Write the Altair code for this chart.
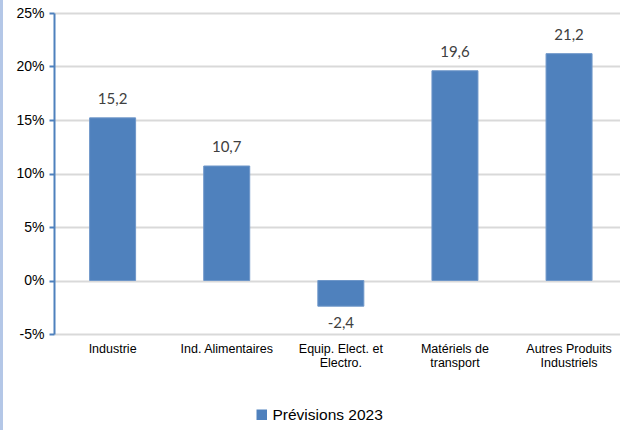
import altair as alt
import pandas as pd

categories = ["Industrie", "Ind. Alimentaires", "Equip. Elect. et Electro.",
              "Matériels de transport", "Autres Produits Industriels"]
label_lines = [["Industrie"], ["Ind. Alimentaires"], ["Equip. Elect. et", "Electro."],
               ["Matériels de", "transport"], ["Autres Produits", "Industriels"]]
values = [15.2, 10.7, -2.4, 19.6, 21.2]
series = "Prévisions 2023"

df = pd.DataFrame({"cat": categories, "val": values, "serie": [series] * len(values)})

# build the multi-line label expression
expr = "datum.label"
for name, lines in reversed(list(zip(categories, label_lines))):
    arr = "[" + ",".join("'" + l + "'" for l in lines) + "]"
    expr = f"datum.label == '{name}' ? {arr} : ({expr})"

BLUE = "#4f81bd"

x = alt.X("cat:N", sort=categories, title=None,
          scale=alt.Scale(paddingInner=0.6, paddingOuter=0.28, align=0.56),
          axis=alt.Axis(domain=False, ticks=False, labelAngle=0, labelExpr=expr,
                        labelFont="Liberation Sans", labelFontSize=12.5, labelColor="#000000",
                        labelPadding=8, labelLineHeight=14, labelBaseline="top"))
y = alt.Y("val:Q", title=None,
          scale=alt.Scale(domain=[-5, 25], nice=False),
          axis=alt.Axis(values=[-5, 0, 5, 10, 15, 20, 25], labelExpr="datum.value + '%'",
                        labelFont="Liberation Sans", labelFontSize=14, labelColor="#000000",
                        domainColor=BLUE, domainWidth=2, tickColor=BLUE, tickWidth=2,
                        tickSize=5, labelPadding=5,
                        gridColor="#d9d9d9", gridWidth=2))

bars = alt.Chart(df).mark_bar(size=46, stroke="#6f97c9", strokeWidth=1).encode(
    x=x, y=y,
    color=alt.Color("serie:N", scale=alt.Scale(range=[BLUE]), title=None,
                    legend=alt.Legend(orient="none", legendX=200, legendY=394,
                                      symbolType="square", symbolSize=110,
                                      symbolStrokeWidth=0,
                                      labelFont="Liberation Sans", labelFontSize=15.5,
                                      labelColor="#000000", labelOffset=3))
)

lbl_calc = "(datum.val < 0 ? '-' : '') + replace(format(abs(datum.val), '.1f'), '.', ',')"

text_pos = alt.Chart(df).transform_filter("datum.val >= 0").transform_calculate(
    lbl=lbl_calc
).mark_text(font="Lato", fontSize=15, color="#404040", baseline="middle", dy=-19).encode(
    x=alt.X("cat:N", sort=categories),
    y=alt.Y("val:Q"),
    text="lbl:N",
)

text_neg = alt.Chart(df).transform_filter("datum.val < 0").transform_calculate(
    lbl=lbl_calc
).mark_text(font="Lato", fontSize=15, color="#404040", baseline="middle", dy=17).encode(
    x=alt.X("cat:N", sort=categories),
    y=alt.Y("val:Q"),
    text="lbl:N",
)

stripe = alt.Chart(df).mark_rule(color="#b4c7e7", strokeWidth=3).encode(
    x=alt.value(-52.5), y=alt.value(-13), y2=alt.value(417)
)

chart = alt.layer(bars, text_pos, text_neg, stripe).properties(
    width=566, height=321,
    autosize=alt.AutoSizeParams(type="none"),
    padding={"left": 54, "top": 13, "right": 0, "bottom": 96},
    background="white",
).configure_view(stroke=None)

chart.save("out.html", embed_options={"renderer": "svg", "actions": False})
